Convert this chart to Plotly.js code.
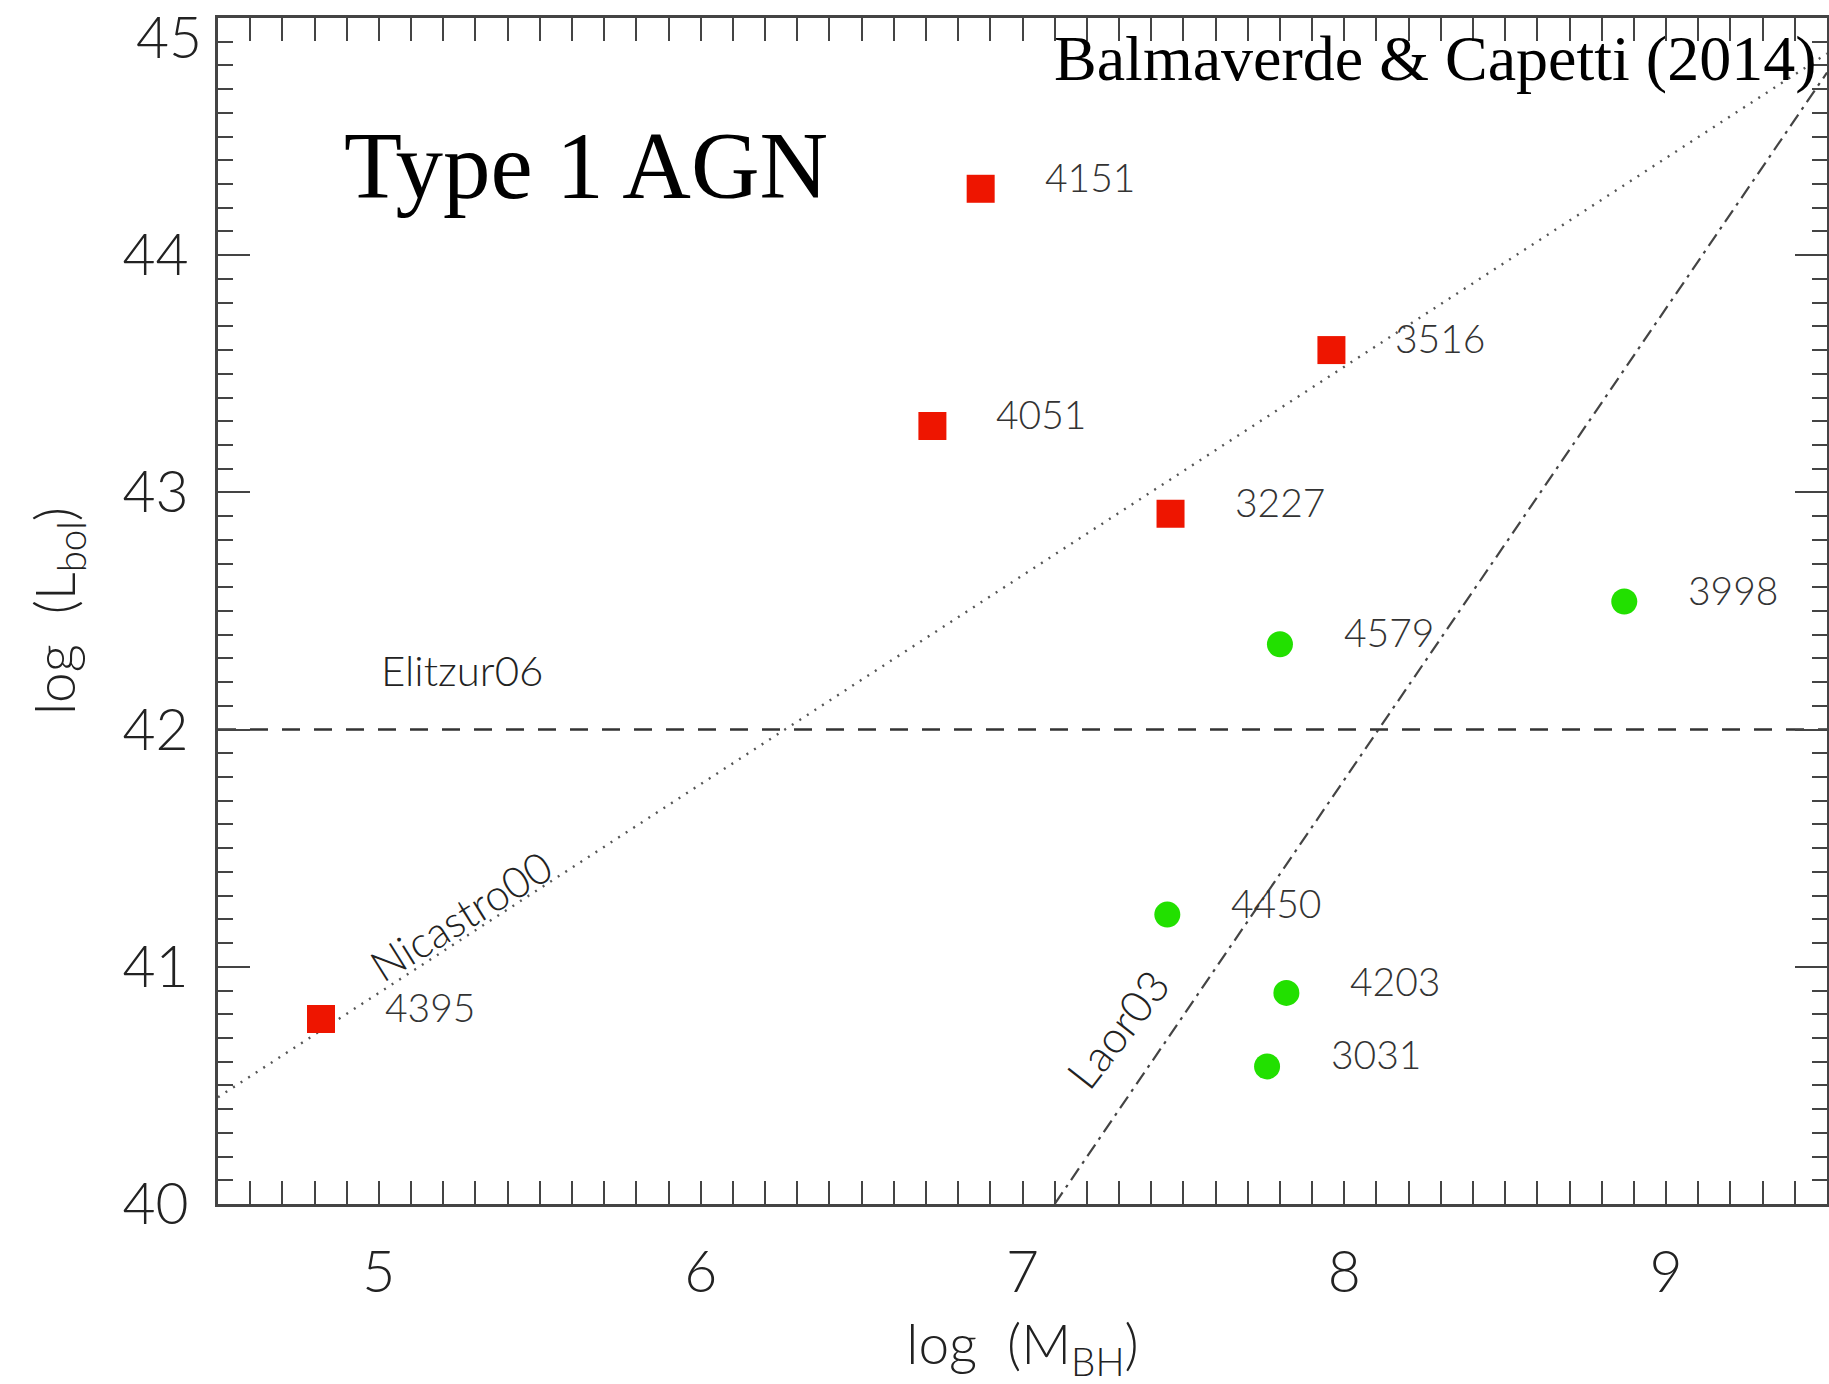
<!DOCTYPE html>
<html>
<head>
<meta charset="utf-8">
<script src="https://cdn.plot.ly/plotly-3.0.1.min.js"></script>
<style>html,body{margin:0;padding:0;background:#fff;}#chart{width:1829px;height:1384px;}</style>
</head>
<body>
<div id="chart"></div>
<script>
// Type 1 AGN (red squares)
const redNames = ["4151", "3516", "4051", "3227", "4395"];
const redX = [6.87, 7.96, 6.72, 7.46, 4.82];
const redY = [44.28, 43.60, 43.28, 42.91, 40.78];
// green circles
const greenNames = ["3998", "4579", "4450", "4203", "3031"];
const greenX = [8.87, 7.80, 7.45, 7.82, 7.76];
const greenY = [42.54, 42.36, 41.22, 40.89, 40.58];
// reference relations
const elitzurX = [4.5, 9.5];
const elitzurY = [42.0, 42.0];
const nicastroX = [4.5, 9.5];
const nicastroY = [40.45, 44.85];
const laorX = [7.10, 9.5];
const laorY = [40.0, 44.77];
// line labels
const lineLabels = ["Elitzur06", "Nicastro00", "Laor03"];
const lineLabelX = [5.0, 5.255, 7.294];
const lineLabelY = [42.25, 41.215, 40.738];
// axis ticks
const xTicks = [5, 6, 7, 8, 9];
const yTicks = [40, 41, 42, 43, 44];
const yTopTick = [45];

const tickFont = {family: "Lato, 'Open Sans', sans-serif", size: 57, color: "#222", weight: 300};
const labelFont = {family: "Lato, 'Open Sans', sans-serif", size: 39, color: "#333", weight: 300};
const axColor = "#444";

const traces = [
  {x: elitzurX, y: elitzurY, mode: "lines", line: {color: "#333", width: 2.5, dash: "18px,14px"}, hoverinfo: "skip"},
  {x: nicastroX, y: nicastroY, mode: "lines", line: {color: "#555", width: 2.4, dash: "2px,7px"}, hoverinfo: "skip"},
  {x: laorX, y: laorY, mode: "lines", line: {color: "#444", width: 2.2, dash: "14px,6px,3px,6px"}, hoverinfo: "skip"},
  {x: redX, y: redY, mode: "markers", marker: {symbol: "square", size: 28, color: "#ee1500"}, text: redNames},
  {x: greenX, y: greenY, mode: "markers", marker: {symbol: "circle", size: 26, color: "#22e000"}, text: greenNames},
  {x: [], y: [], yaxis: "y2", mode: "markers", hoverinfo: "skip"}
];

const annotations = [];
function addPointLabels(names, xs, ys) {
  names.forEach((n, i) => annotations.push({
    x: xs[i], y: ys[i], xref: "x", yref: "y", text: n, showarrow: false,
    xanchor: "left", yanchor: "middle", xshift: 62, yshift: 12, font: labelFont
  }));
}
addPointLabels(redNames, redX, redY);
addPointLabels(greenNames, greenX, greenY);

const lineAngles = [0, -32, -52];
const lineSizes = [42, 43, 44];
lineLabels.forEach((t, i) => annotations.push({
  x: lineLabelX[i], y: lineLabelY[i], xref: "x", yref: "y", text: t, showarrow: false,
  xanchor: i === 0 ? "left" : "center", yanchor: "middle", textangle: lineAngles[i],
  font: {family: labelFont.family, size: lineSizes[i], color: "#222", weight: 300}
}));

annotations.push({
  xref: "paper", yref: "paper", x: 0.077, y: 0.875, xanchor: "left", yanchor: "middle",
  text: "Type 1 AGN", showarrow: false,
  font: {family: "'Liberation Serif', 'Times New Roman', serif", size: 95, color: "#000"}
});
annotations.push({
  xref: "paper", yref: "paper", x: 0.9945, y: 0.966, xanchor: "right", yanchor: "middle",
  text: "Balmaverde &amp; Capetti (2014)", showarrow: false,
  font: {family: "'Liberation Serif', 'Times New Roman', serif", size: 64, color: "#000"}
});

const layout = {
  width: 1829, height: 1384,
  margin: {l: 218, r: 2, t: 18, b: 180},
  paper_bgcolor: "#fff", plot_bgcolor: "#fff",
  showlegend: false,
  xaxis: {
    range: [4.5, 9.5], tickvals: xTicks, ticks: "inside", ticklen: 23, tickwidth: 2, tickcolor: axColor,
    minor: {dtick: 0.1, tick0: 0, ticks: "inside", ticklen: 12, tickwidth: 2, tickcolor: axColor},
    showline: true, linecolor: axColor, linewidth: 3, mirror: "allticks", showgrid: false, zeroline: false,
    tickfont: tickFont, ticklabelstandoff: 17,
    title: {text: "log  (M<sub>BH</sub>)", font: {family: tickFont.family, size: 55, color: "#222", weight: 300}, standoff: 48}
  },
  yaxis: {
    range: [40, 45], tickvals: yTicks, ticks: "inside", ticklen: 32, tickwidth: 2, tickcolor: axColor,
    minor: {dtick: 0.1, tick0: 0, ticks: "inside", ticklen: 15, tickwidth: 2, tickcolor: axColor},
    showline: true, linecolor: axColor, linewidth: 3, mirror: "allticks", showgrid: false, zeroline: false,
    tickfont: tickFont, ticklabelstandoff: 15,
    title: {text: "log  (L<sub>bol</sub>)", font: {family: tickFont.family, size: 55, color: "#222", weight: 300}, standoff: 30}
  },
  yaxis2: {
    overlaying: "y", side: "left", range: [40, 45], tickvals: yTopTick, ticks: "inside", ticklen: 32, tickwidth: 2,
    tickcolor: axColor, showline: false, showgrid: false, zeroline: false,
    tickfont: tickFont, ticklabelstandoff: 15, ticklabelshift: 20, ticklabeloverflow: "allow"
  },
  annotations: annotations
};

Plotly.newPlot("chart", traces, layout, {displayModeBar: false, staticPlot: true});
</script>
</body>
</html>
